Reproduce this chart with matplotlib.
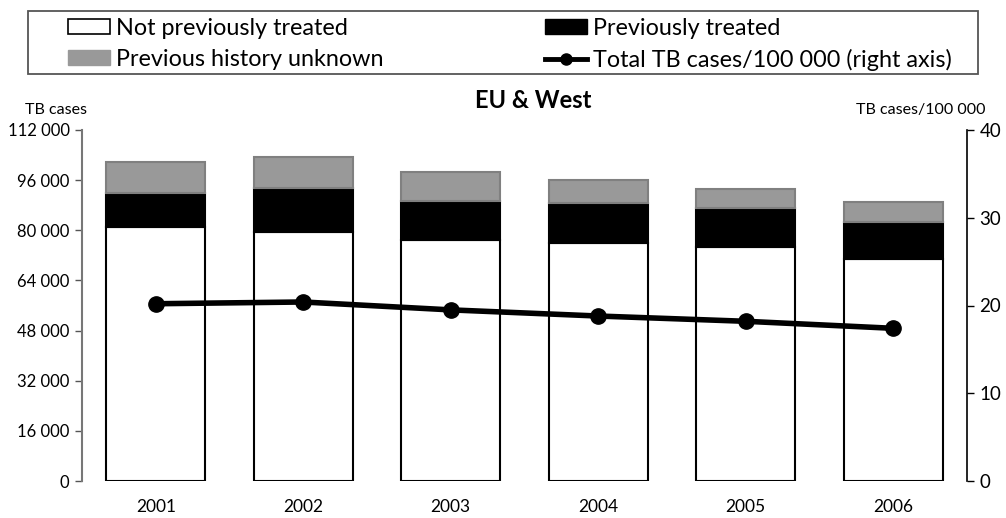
import matplotlib
matplotlib.use("Agg")
import matplotlib.pyplot as plt
from matplotlib.patches import Patch, Rectangle
from matplotlib.lines import Line2D

plt.rcParams['font.family'] = ['Lato', 'DejaVu Sans']

years = ['2001', '2002', '2003', '2004', '2005', '2006']
not_prev = [81000, 79400, 76800, 76000, 74600, 70800]
prev_treated = [11000, 14200, 12600, 12600, 12600, 11800]
unknown = [9900, 9700, 9200, 7300, 5900, 6500]
rate = [20.2, 20.4, 19.5, 18.8, 18.2, 17.4]

left_ticks = [0, 16000, 32000, 48000, 64000, 80000, 96000, 112000]
right_ticks = [0, 10, 20, 30, 40]

W, H = 1006, 518
fig = plt.figure(figsize=(W/100, H/100), dpi=100)
ax = fig.add_axes([82/W, 1 - 481/H, (967 - 82)/W, (481 - 130)/H])

x = range(len(years))
w = 0.67
ax.bar(x, not_prev, w, color='white', edgecolor='black', linewidth=1.5, zorder=2)
b2 = [a for a in not_prev]
ax.bar(x, prev_treated, w, bottom=b2, color='black', edgecolor='black', linewidth=1.5, zorder=2)
b3 = [a + b for a, b in zip(not_prev, prev_treated)]
ax.bar(x, unknown, w, bottom=b3, color='#999999', edgecolor='#808080', linewidth=1.5, zorder=2)

ax.set_xlim(-0.5, 5.5)
ax.set_ylim(0, 112000)
ax.set_yticks(left_ticks)
ax.set_yticklabels(['{:,}'.format(v).replace(',', ' ') for v in left_ticks], fontsize=12)
ax.set_xticks(list(x))
ax.set_xticklabels(years, fontsize=12.5)
ax.tick_params(axis='x', length=0, pad=13)
ax.tick_params(axis='y', length=5, width=1, color='#555555', pad=4)
for s in ['top', 'right', 'bottom']:
    ax.spines[s].set_visible(False)
ax.spines['left'].set_color('#777777')
ax.spines['left'].set_linewidth(1.5)

ax2 = ax.twinx()
ax2.plot(x, rate, color='black', lw=4, marker='o', ms=11, zorder=3)
ax2.set_ylim(0, 40)
ax2.set_yticks(right_ticks)
ax2.set_yticklabels([str(v) for v in right_ticks], fontsize=13.5)
ax2.tick_params(axis='y', length=5, width=1, pad=4)
for s in ['top', 'left', 'bottom']:
    ax2.spines[s].set_visible(False)
ax2.spines['right'].set_linewidth(1.2)

fig.text(533/W, 1 - 100/H, 'EU & West', fontsize=17, fontweight='bold', ha='center', va='center')
fig.text(25/W, 1 - 110/H, 'TB cases', fontsize=11.5, ha='left', va='center')
fig.text(985/W, 1 - 110/H, 'TB cases/100 000', fontsize=11.5, ha='right', va='center')

# legend frame drawn separately
fig.patches.append(Rectangle((28/W, 1 - 74/H), 950/W, 63/H, transform=fig.transFigure,
                             facecolor='none', edgecolor='#555555', lw=1.3))

handles = [
    Patch(facecolor='white', edgecolor='black', linewidth=1.2),
    Patch(facecolor='#999999', edgecolor='#999999'),
    Patch(facecolor='black', edgecolor='black'),
    Line2D([], [], color='black', lw=3.5, marker='o', ms=8),
]
labels = ['Not previously treated', 'Previous history unknown',
          'Previously treated', 'Total TB cases/100 000 (right axis)']
leg = fig.legend(handles, labels, loc='upper left', ncol=2, mode='expand',
                 bbox_to_anchor=(68/W, 1 - 18/H, (952 - 68)/W, 0),
                 fontsize=16.8, frameon=False,
                 handlelength=1.8, handleheight=0.6, handletextpad=0.25,
                 labelspacing=0.42, borderpad=0, borderaxespad=0)

fig.savefig('out.png', dpi=100)
